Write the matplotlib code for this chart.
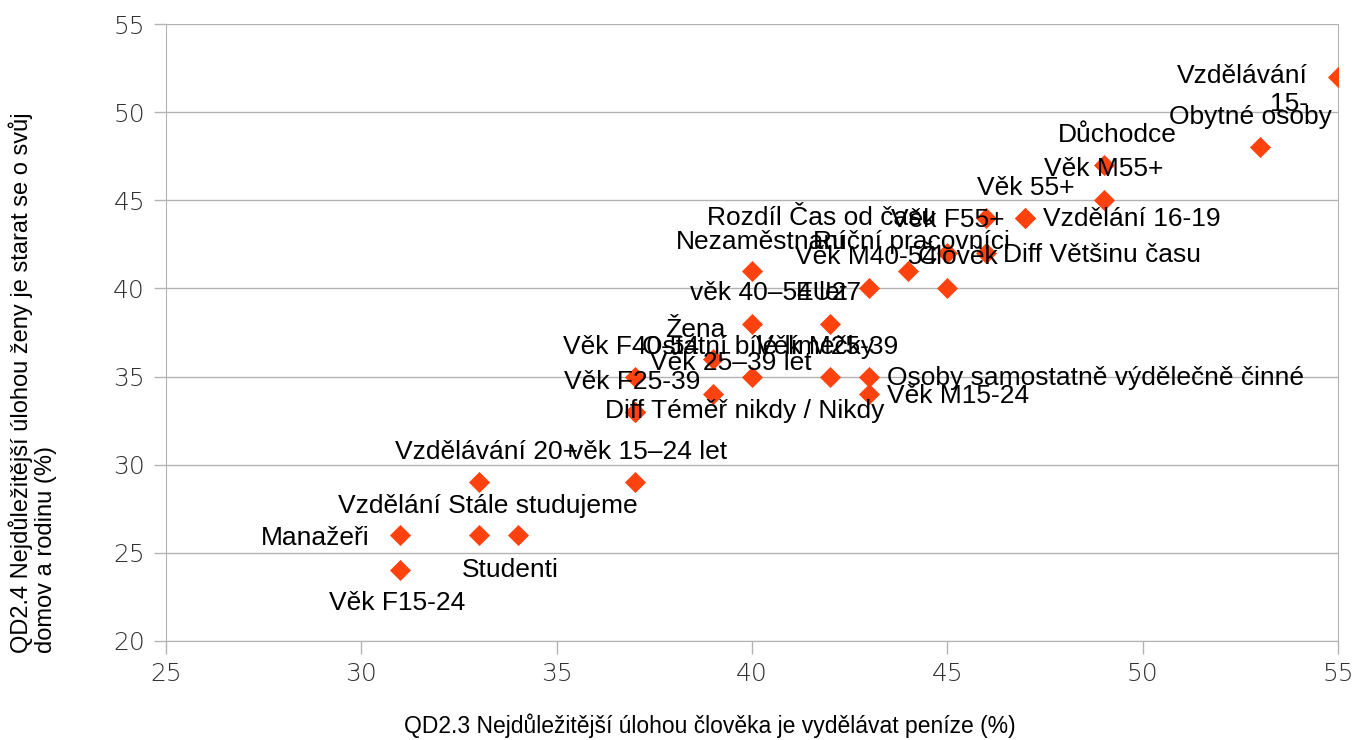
import matplotlib
matplotlib.use("Agg")
import matplotlib.pyplot as plt

# data
labels = ["Vzdělávání\n15-", "Obytné osoby", "Důchodce", "Věk M55+", "Věk 55+",
          "Vzdělání 16-19", "Věk F55+", "Rozdíl Čas od času", "Nezaměstnaní",
          "Ruční pracovníci", "Věk M40-54", "Člověk", "Diff Většinu času",
          "věk 40–54 let", "EU27", "Žena", "Věk F40-54", "Ostatní bílé límečky",
          "Věk M25-39", "Věk 25–39 let", "Věk F25-39",
          "Osoby samostatně výdělečně činné", "Věk M15-24",
          "Diff Téměř nikdy / Nikdy", "Vzdělávání 20+", "věk 15–24 let",
          "Vzdělání Stále studujeme", "Manažeři", "Studenti", "Věk F15-24"]
x_vals = [55, 53, 49, 49, 47, 47, 45, 46, 40, 44, 43, 45, 46, 40, 42, 39, 37, 40,
          42, 39, 37, 43, 43, 37, 33, 37, 33, 31, 34, 31]
y_vals = [52, 48, 47, 45, 44, 44, 42, 44, 41, 41, 40, 40, 42, 38, 38, 36, 35, 35,
          35, 34, 33, 35, 34, 33, 29, 29, 26, 26, 26, 24]

x_ticks = [25, 30, 35, 40, 45, 50, 55]
y_ticks = [20, 25, 30, 35, 40, 45, 50, 55]

# label placement: (dx px, dy px downward, horizontal alignment)
label_pos = [(-30, 13, "right"), (-9, -30, "center"), (14, -30, "center"),
             (0, -31, "center"), (0, -30, "center"), (18, 1, "left"),
             (0, -33, "center"), (-279, 0, "left"), (-76, -29, "left"),
             (3, -29, "center"), (-74, -31, "left"), (51, -31, "right"),
             (17, 2, "left"), (-62, -31, "left"), (-1, -31, "center"),
             (-18, -29, "center"), (-72, -30, "left"), (-110, -30, "left"),
             (68, -30, "right"), (18, -31, "center"), (-3, -30, "center"),
             (18, 1, "left"), (18, 2, "left"), (110, -1, "center"),
             (8, -30, "center"), (14, -30, "center"), (9, -29, "center"),
             (-31, 3, "right"), (-7, 35, "center"), (-3, 33, "center")]

W, H = 1354, 740
fig = plt.figure(figsize=(W / 100, H / 100), dpi=100)
ax = fig.add_axes([166 / W, 1 - 641 / H, (1338 - 166) / W, (641 - 24) / H])

ax.scatter(x_vals, y_vals, marker="D", s=115, color="#ff420e", zorder=3, linewidths=0)

for lab, xv, yv, (dx, dy, ha) in zip(labels, x_vals, y_vals, label_pos):
    ax.annotate(lab, (xv, yv), xytext=(dx, -dy), textcoords="offset pixels",
                ha=ha, va="center", multialignment=ha,
                fontsize=19, family="Liberation Sans", color="black", zorder=4,
                annotation_clip=False)

ax.set_xlim(25, 55)
ax.set_ylim(20, 55)
ax.set_xticks(x_ticks)
ax.set_yticks(y_ticks)
ax.grid(axis="y", color="#b3b3b3", linewidth=1)
ax.set_axisbelow(True)
for side in ["left", "right", "bottom"]:
    ax.spines[side].set_color("#b3b3b3")
ax.spines["top"].set_visible(False)
ax.tick_params(colors="#b3b3b3", length=9, width=1, pad=6)
for t in ax.get_xticklabels() + ax.get_yticklabels():
    t.set_family("DejaVu Sans")
    t.set_fontweight("light")
    t.set_fontsize(18)
    t.set_color("#333333")

fig.text(710 / W, 1 - 726 / H, "QD2.3 Nejdůležitější úlohou člověka je vydělávat peníze (%)",
         ha="center", va="center", fontsize=16.5, family="Liberation Sans")
fig.text(33 / W, 1 - 653 / H,
         "QD2.4 Nejdůležitější úlohou ženy je starat se o svůj\ndomov a rodinu (%)",
         rotation=90, ha="center", va="bottom", multialignment="left",
         fontsize=17, family="Liberation Sans", linespacing=1.1)

fig.savefig("out.png", dpi=100)
